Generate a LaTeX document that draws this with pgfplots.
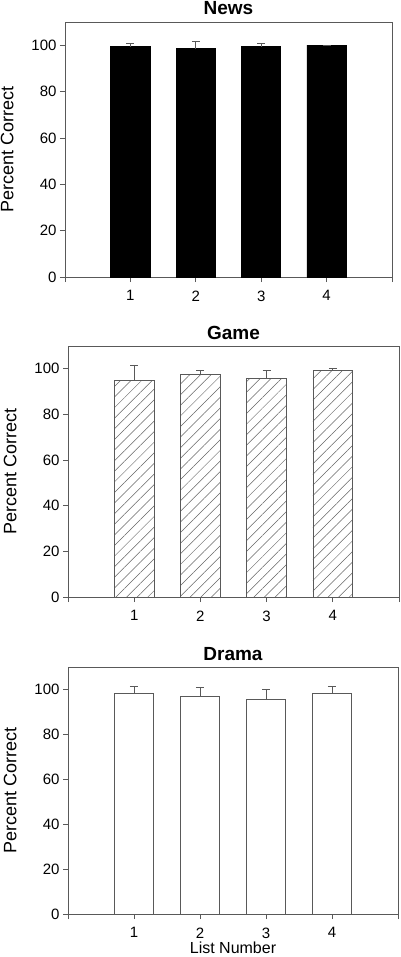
\documentclass[border=0pt]{standalone}
\usepackage{fontspec}
\setmainfont{Liberation Sans}
\usepackage{pgfplots}
\usepackage{pgfplotstable}
\pgfplotsset{compat=1.18}
\usetikzlibrary{patterns.meta}

\definecolor{axgray}{gray}{0.35}

% list number, percent correct, upper error
\pgfplotstableread{
list pc err
1 99.3 1.3
2 98.4 3.2
3 99.3 1.3
4 100.0 0.0
}\newsdata
\pgfplotstableread{
list pc err
1 95.0 6.7
2 97.5 1.9
3 95.8 3.4
4 99.4 0.9
}\gamedata
\pgfplotstableread{
list pc err
1 98.2 3.1
2 97.0 3.9
3 95.5 4.5
4 98.2 3.1
}\dramadata

\pgfplotsset{
  panel/.style={
    scale only axis,
    anchor=south west,
    xmin=0, xmax=5, ymin=0, ymax=110,
    xtick={0,...,5}, xticklabels={,1,2,3,4,},
    ytick={0,20,...,100},
    tick align=outside, xtick pos=bottom, ytick pos=left,
    major tick length=5pt,
    axis line style={axgray, line width=0.8pt},
    every tick/.style={axgray, line width=0.8pt},
    tick label style={font=\fontsize{15}{15}\selectfont},
    /pgf/number format/assume math mode=true,
    xticklabel shift=5pt,
    ylabel={Percent Correct},
    ylabel style={font=\fontsize{18}{18}\selectfont},
    ylabel shift=11pt,
    title style={at={(0.5,1)}, anchor=base, yshift=1pt,
      font=\bfseries\fontsize{19}{19}\selectfont},
    ybar, bar width=0.6,
    error bars/y dir=plus, error bars/y explicit,
    error bars/error bar style={axgray, line width=0.8pt},
    error bars/error mark options={axgray, line width=0.8pt, mark size=4pt, rotate=90},
  }
}

\begin{document}
\begin{tikzpicture}
\useasboundingbox (0,-957pt) rectangle (400pt,0pt);

\begin{axis}[panel, at={(65pt,-277pt)}, width=327pt, height=255pt, title={News}]
\addplot[fill=black, draw=black, line width=0.8pt]
  table[x=list, y=pc, y error=err] {\newsdata};
\end{axis}

\begin{axis}[panel, at={(68pt,-597pt)}, width=331pt, height=251pt, title={Game}]
\addplot[fill=white, draw=axgray, line width=0.8pt,
  postaction={pattern={Lines[angle=45, distance=7.5pt, line width=0.5pt]}, pattern color=black!60}]
  table[x=list, y=pc, y error=err] {\gamedata};
\end{axis}

\begin{axis}[panel, at={(68pt,-914pt)}, width=330pt, height=247pt, title={Drama},
  xlabel={List Number},
  xlabel style={font=\fontsize{16}{16}\selectfont, at={(axis description cs:0.5,0)}, anchor=base, yshift=-39pt}]
\addplot[fill=white, draw=axgray, line width=0.8pt]
  table[x=list, y=pc, y error=err] {\dramadata};
\end{axis}
\end{tikzpicture}
\end{document}
